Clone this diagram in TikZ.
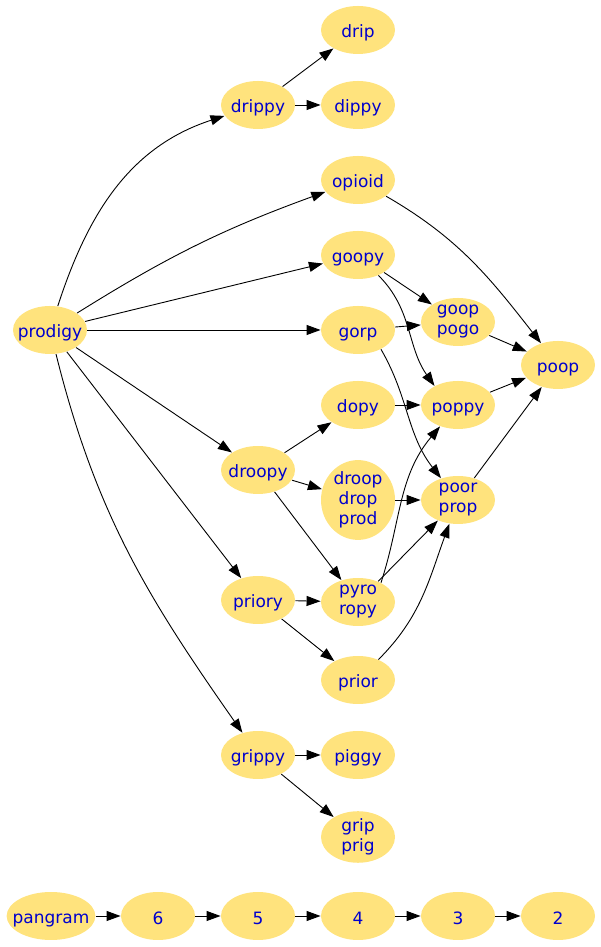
\documentclass[tikz,border=0pt]{standalone}
\usepackage{fontspec}
\setmainfont{DejaVu Sans}
\usepackage{xcolor}
\usepackage{tikz}
\usetikzlibrary{shapes.geometric,arrows.meta}

\definecolor{wordfill}{RGB}{255,227,125}
\definecolor{wordink}{RGB}{0,0,205}

\begin{document}
\begin{tikzpicture}[x=1pt,y=1pt,line width=0.9pt,>={Triangle[length=14pt,width=10pt]}]
\tikzstyle{every node}=[shape=ellipse,fill=wordfill,text=wordink,minimum width=74pt,minimum height=48pt,inner xsep=-7pt,inner ysep=0pt,align=center,font=\fontsize{17}{20}\selectfont,execute at begin node={\rule{0pt}{18pt}}];
\useasboundingbox (0,0) rectangle (601,947);

% root
\node (prodigy) at (50,617) {prodigy};

% second column
\node (drippy) at (258,842) {drippy};
\node (droopy) at (258,477) {droopy};
\node (priory) at (258,347) {priory};
\node (grippy) at (258,192) {grippy};

% third column
\node (drip) at (358,917) {drip};
\node (dippy) at (358,842) {dippy};
\node (opioid) at (358,767) {opioid};
\node (goopy) at (358,692) {goopy};
\node (gorp) at (358,617) {gorp};
\node (dopy) at (358,542) {dopy};
\node (droop) at (358,447) {droop\\drop\\prod};
\node (pyro) at (358,345) {pyro\\ropy};
\node (prior) at (358,267) {prior};
\node (piggy) at (358,192) {piggy};
\node (grip) at (358,110) {grip\\prig};

% fourth and fifth column
\node (goop) at (458,625) {goop\\pogo};
\node (poppy) at (458,542) {poppy};
\node (poor) at (458,447) {poor\\prop};
\node (poop) at (558,582) {poop};

\draw[->] (prodigy) to[out=72,in=198] (drippy);
\draw[->] (prodigy) to[out=32,in=200] (opioid);
\draw[->] (prodigy) -- (goopy);
\draw[->] (prodigy) -- (gorp);
\draw[->] (prodigy) -- (droopy);
\draw[->] (prodigy) -- (priory);
\draw[->] (prodigy) to[out=-76,in=125] (grippy);

\draw[->] (drippy) -- (drip);
\draw[->] (drippy) -- (dippy);
\draw[->] (opioid) to[out=-30,in=128] (poop);
\draw[->] (goopy) -- (goop);
\draw[->] (goopy) to[out=-45,in=125] (poppy.141);
\draw[->] (gorp) -- (goop);
\draw[->] (gorp.-40) to[out=-60,in=128] (poor);
\draw[->] (dopy) -- (poppy);
\draw[->] (droopy) -- (dopy);
\draw[->] (droopy) -- (droop);
\draw[->] (droopy) -- (pyro);
\draw[->] (droop) -- (poor);
\draw[->] (pyro.40) to[out=72,in=230] (poppy);
\draw[->] (pyro) -- (poor);
\draw[->] (priory) -- (pyro);
\draw[->] (priory) -- (prior);
\draw[->] (prior) to[out=45,in=250] (poor);
\draw[->] (grippy) -- (piggy);
\draw[->] (grippy) -- (grip);

\draw[->] (goop) -- (poop);
\draw[->] (poppy) -- (poop);
\draw[->] (poor) -- (poop);

% bottom row
\node (pangram) at (51,31) {pangram};
\foreach \n [count=\k] in {6,5,4,3,2} {
	\node (n\n) at (58+100*\k,31) {\n};
}
\draw[->] (pangram) -- (n6);
\foreach \a/\b in {6/5,5/4,4/3,3/2} {
	\draw[->] (n\a) -- (n\b);
}
\end{tikzpicture}
\end{document}
